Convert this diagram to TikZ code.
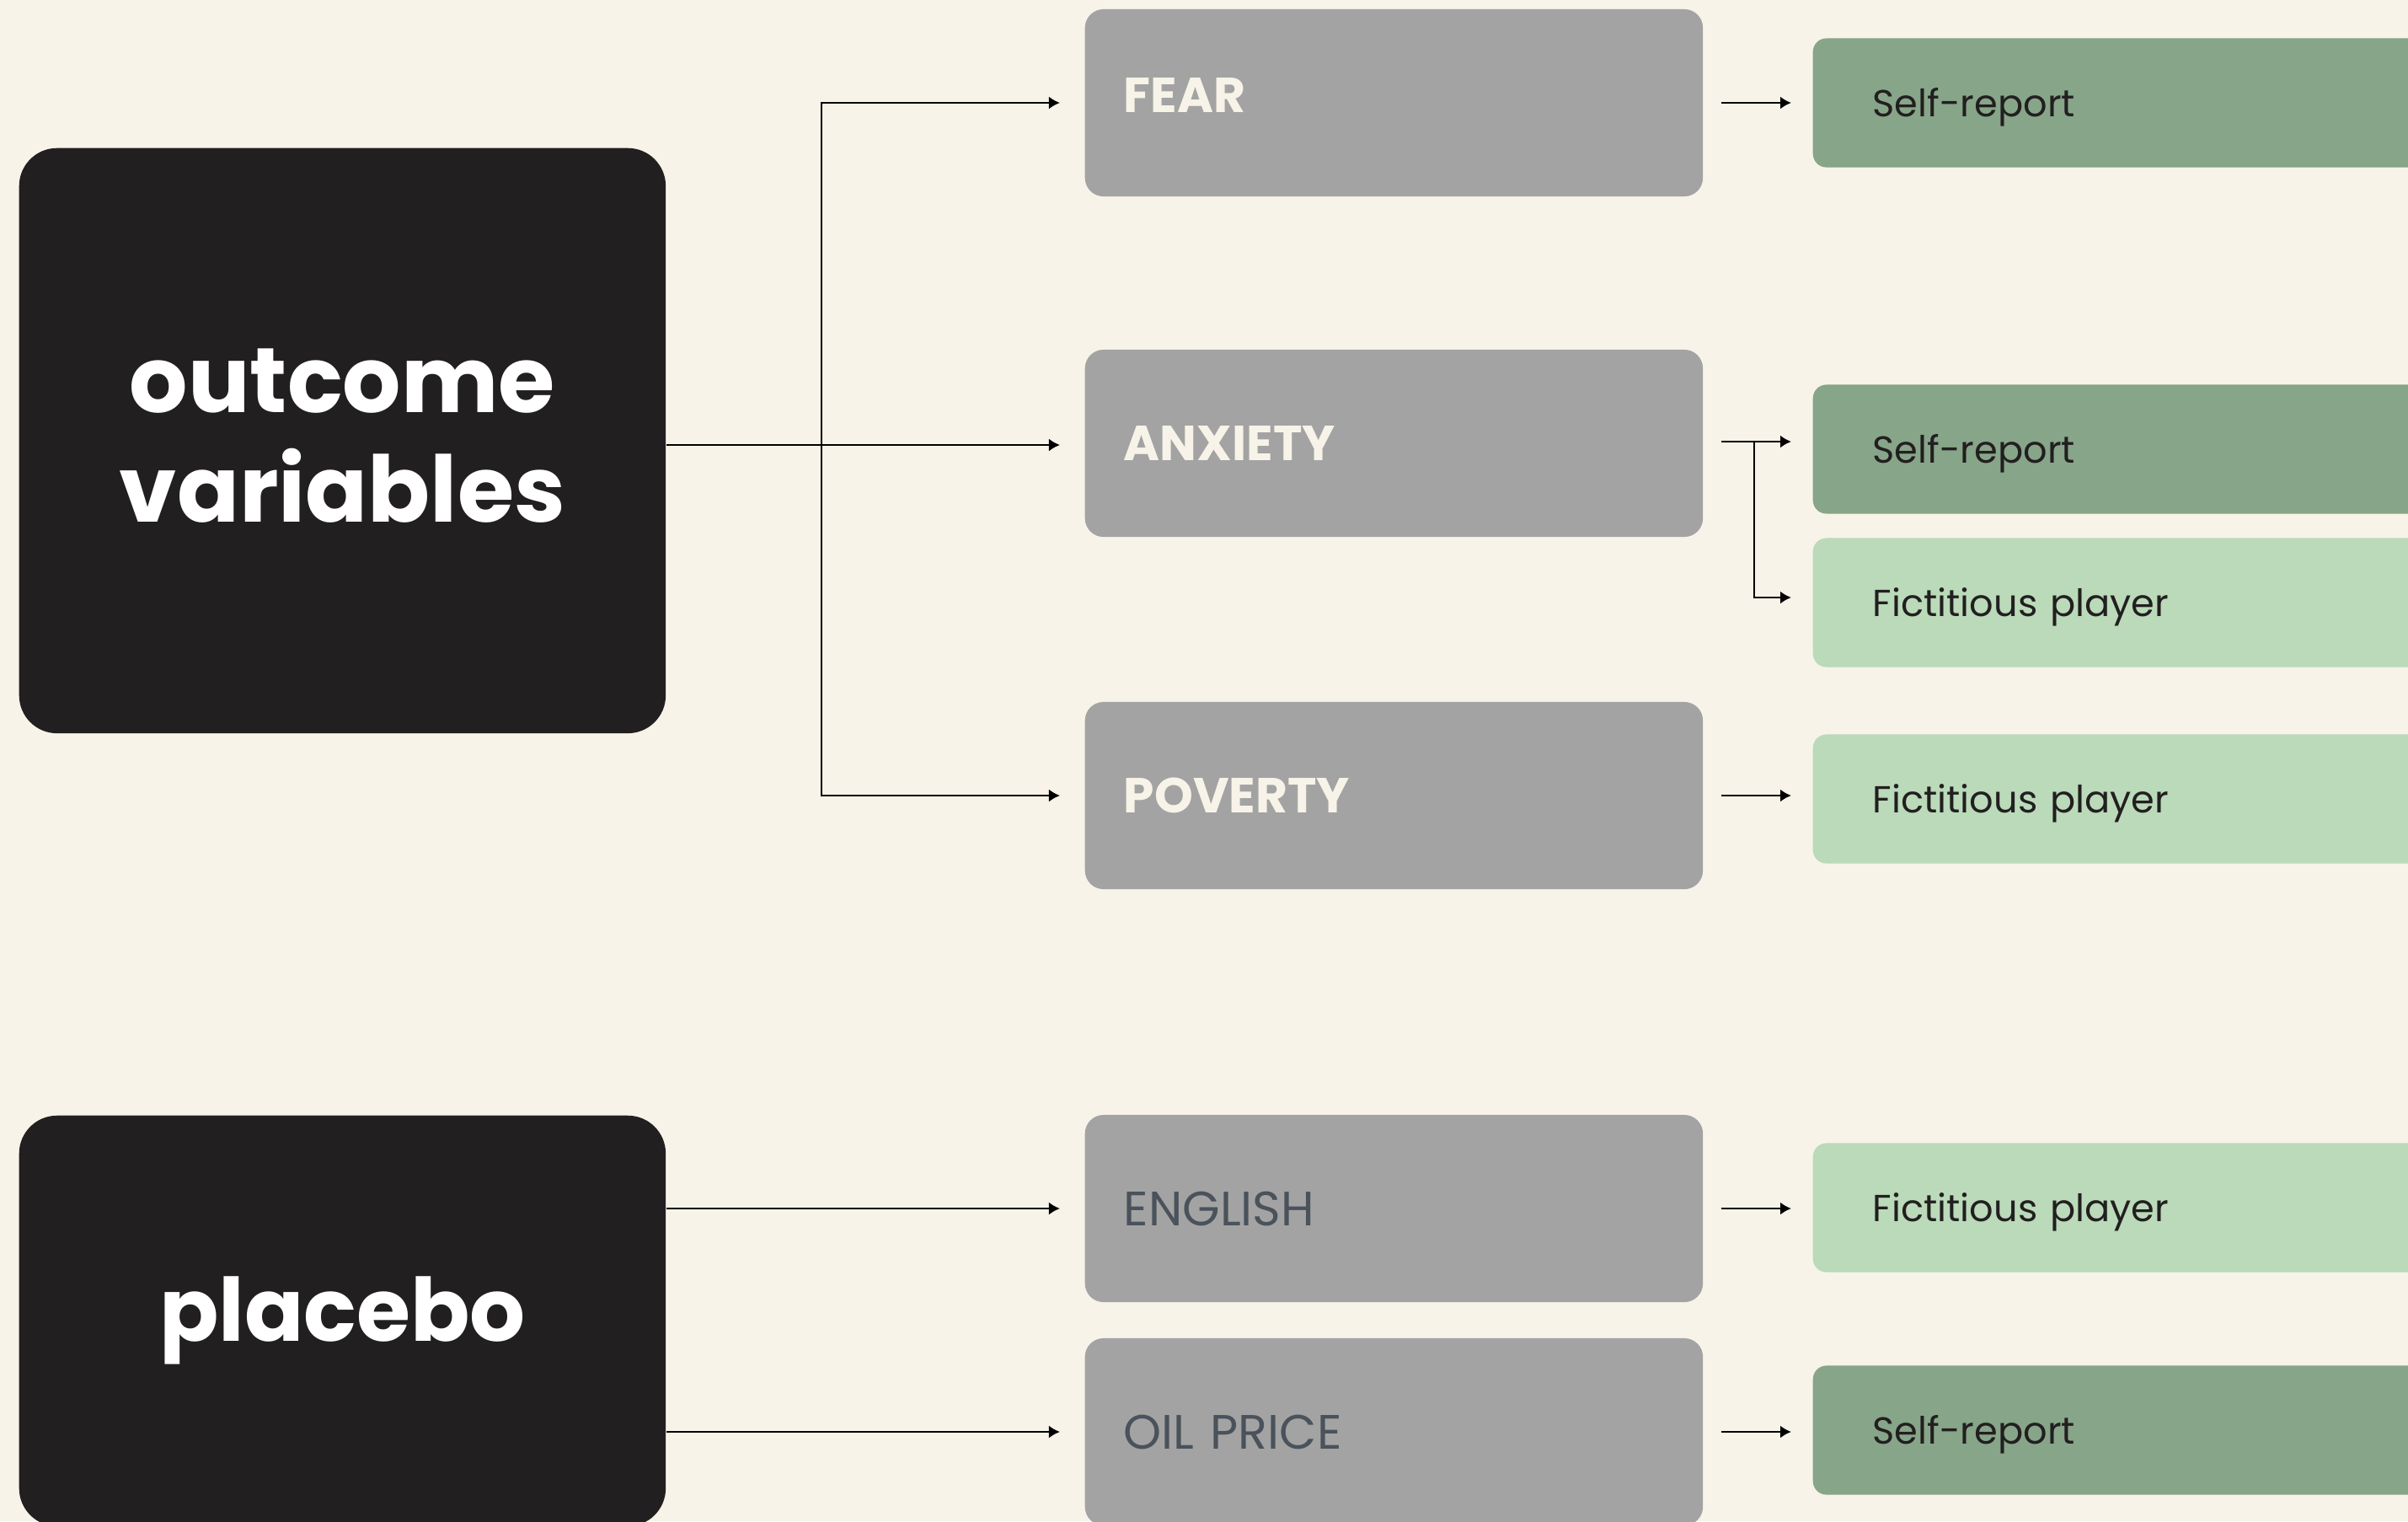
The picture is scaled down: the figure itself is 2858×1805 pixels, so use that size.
\documentclass[tikz,border=0pt]{standalone}
\usepackage{fontspec}
\setmainfont{Poppins}
\usetikzlibrary{arrows.meta}
\definecolor{paper}{HTML}{F7F3E8}
\definecolor{ink}{HTML}{221F20}
\definecolor{slab}{HTML}{A3A3A3}
\definecolor{sage}{HTML}{87A588}
\definecolor{mint}{HTML}{BADAB9}
\definecolor{slate}{HTML}{4A525B}
\tikzset{
  head/.style={fill=ink, text=white, rounded corners=0.45cm, minimum width=7.67cm,
    align=center, font=\fontsize{31}{37}\selectfont\bfseries},
  var/.style={fill=slab, rounded corners=0.22cm, minimum height=2.22cm, text width=6.41cm,
    inner xsep=0.46cm, align=left, anchor=west},
  mainvar/.style={var, text=paper, font=\fontsize{16.6}{20}\selectfont\bfseries},
  placebovar/.style={var, text=slate, font=\fontsize{16.3}{20}\selectfont},
  measure/.style={rounded corners=0.16cm, minimum height=1.53cm, text width=7.3cm,
    inner xsep=0.71cm, align=left, anchor=west, text=ink, font=\fontsize{12.7}{16}\selectfont,
    text height=10pt, text depth=0.9pt},
  selfrep/.style={measure, fill=sage},
  fictplayer/.style={measure, fill=mint},
  arrow/.style={-{Latex[length=1.3mm,width=1.5mm]}, line width=0.7pt}
}
\begin{document}
\begin{tikzpicture}[x=0.01cm, y=-0.01cm]
    % the page
    \useasboundingbox (0,0) rectangle (2858,1805);
    \clip (0,0) rectangle (2858,1805);
    \fill[paper] (0,0) rectangle (2858,1805);
    % the two groups on the left
    \node[head, anchor=north west, minimum height=6.94cm, text depth=0.12cm] (outcome) at (22,175) {outcome\\variables};
    \node[head, anchor=north west, minimum height=4.87cm, font=\fontsize{29.5}{35}\selectfont\bfseries] (placebo) at (22,1323) {placebo};
    % the variables
    \node[mainvar, text depth=5pt] (fear) at (1287,122) {FEAR};
    \node[mainvar] (anxiety) at (1287,526) {ANXIETY};
    \node[mainvar] (poverty) at (1287,944) {POVERTY};
    \node[placebovar] (english) at (1287,1434) {ENGLISH};
    \node[placebovar] (oilprice) at (1287,1699) {OIL PRICE};
    % the measures (they run off the right edge)
    \node[selfrep] (fearself) at (2151,122) {Self-report};
    \node[selfrep] (anxself) at (2151,533) {Self-report};
    \node[fictplayer] (anxfict) at (2151,715) {Fictitious player};
    \node[fictplayer] (povfict) at (2151,948) {Fictitious player};
    \node[fictplayer] (engfict) at (2151,1433) {Fictitious player};
    \node[selfrep] (oilself) at (2151,1697) {Self-report};
    % split points of the brackets
    \coordinate (split) at (975,528);
    \coordinate (fork) at (2082,524);
    % draw the arrows to the variables
    \draw[arrow, shorten >=0.29cm] (outcome.east |- split) -- (split -| anxiety.west);
    \draw[arrow, shorten >=0.29cm] (split) |- (fear.west);
    \draw[arrow, shorten >=0.29cm] (split) |- (poverty.west);
    \draw[arrow, shorten >=0.29cm] (placebo.east |- english.west) -- (english.west);
    \draw[arrow, shorten >=0.29cm] (placebo.east |- oilprice.west) -- (oilprice.west);
    % draw the arrows to the measures
    \draw[arrow, shorten <=0.21cm, shorten >=0.25cm] (fear.east) -- (fear.east -| fearself.west);
    \draw[arrow, shorten <=0.21cm, shorten >=0.25cm] (anxiety.east |- fork) -- (fork -| anxself.west);
    \draw[arrow, shorten >=0.25cm] (fork) |- ([yshift=0.06cm]anxfict.west);
    \draw[arrow, shorten <=0.21cm, shorten >=0.25cm] (poverty.east) -- (poverty.east -| povfict.west);
    \draw[arrow, shorten <=0.21cm, shorten >=0.25cm] (english.east) -- (english.east -| engfict.west);
    \draw[arrow, shorten <=0.21cm, shorten >=0.25cm] (oilprice.east) -- (oilprice.east -| oilself.west);
\end{tikzpicture}
\end{document}
